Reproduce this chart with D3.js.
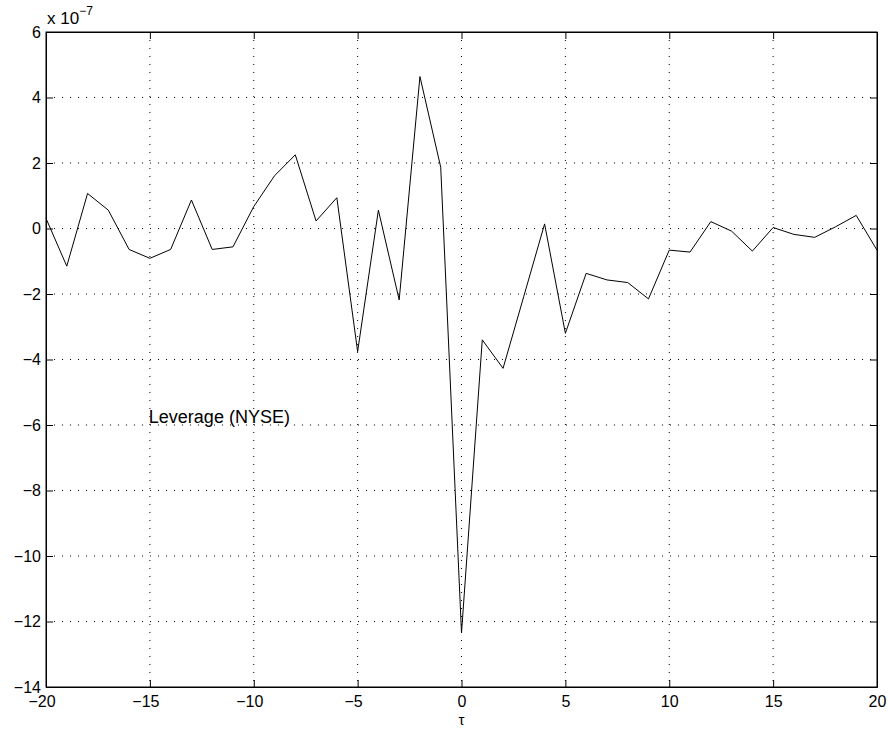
<html>
<head>
<script src="https://d3js.org/d3.v7.min.js"></script>
<style>
  body{margin:0;background:#fff;}
  text{font-family:"Liberation Sans",Arial,sans-serif;fill:#000;}
  .grid line{stroke:#000;stroke-width:1;stroke-dasharray:1,7;}
</style>
</head>
<body>
<script>
// lag tau
const lags = d3.range(-20, 21);
// leverage correlation, in units of 1e-7
const leverage = [0.31, -1.15, 1.07, 0.56, -0.64, -0.91, -0.64, 0.87, -0.64, -0.56,
  0.67, 1.61, 2.25, 0.23, 0.94, -3.76, 0.56, -2.18, 4.64, 1.87,
  -12.35, -3.40, -4.27, -2.07, 0.14, -3.20, -1.37, -1.57, -1.65, -2.15,
  -0.66, -0.72, 0.21, -0.08, -0.69, 0.03, -0.18, -0.27, 0.05, 0.40, -0.66];
const xTicks = [-20, -15, -10, -5, 0, 5, 10, 15, 20];
const yTicks = [-14, -12, -10, -8, -6, -4, -2, 0, 2, 4, 6];

const w = 889, h = 735;
const margin = {left:46, right:12, top:32, bottom:48};
const innerW = w - margin.left - margin.right;
const innerH = h - margin.top - margin.bottom;

const x = d3.scaleLinear().domain([-20, 20]).range([0, innerW]);
const y = d3.scaleLinear().domain([-14, 6]).range([innerH, 0]);

const svg = d3.select("body").append("svg").attr("width", w).attr("height", h);
const g = svg.append("g").attr("transform", "translate(" + margin.left + "," + margin.top + ")");

// grid
const grid = g.append("g").attr("class", "grid");
grid.selectAll(".vx").data(xTicks.slice(1, -1)).enter().append("line")
  .attr("x1", d => x(d)).attr("x2", d => x(d)).attr("y1", 0).attr("y2", innerH);
grid.selectAll(".hy").data(yTicks.slice(1, -1)).enter().append("line")
  .attr("x1", 0).attr("x2", innerW).attr("y1", d => y(d)).attr("y2", d => y(d));

// axes
const fmt = d => d < 0 ? "\u2212" + Math.abs(d) : String(d);
const xAxis = g.append("g").attr("transform", "translate(0," + innerH + ")")
  .call(d3.axisBottom(x).tickValues(xTicks).tickSizeInner(-7).tickSizeOuter(0).tickFormat(fmt));
const yAxis = g.append("g")
  .call(d3.axisLeft(y).tickValues(yTicks).tickSizeInner(-7).tickSizeOuter(0).tickPadding(5).tickFormat(fmt));
g.append("g").attr("transform", "translate(0,0)")
  .call(d3.axisTop(x).tickValues(xTicks).tickSizeInner(-7).tickSizeOuter(0).tickFormat(""));
g.append("g").attr("transform", "translate(" + innerW + ",0)")
  .call(d3.axisRight(y).tickValues(yTicks).tickSizeInner(-7).tickSizeOuter(0).tickFormat(""));
g.selectAll(".domain").attr("stroke", "#000").attr("stroke-width", 1);
g.selectAll(".tick line").attr("stroke", "#000");
g.selectAll(".tick text").attr("font-size", 16).attr("font-family", "Liberation Sans, Arial, sans-serif");
// digits centred on the tick, minus sign hanging to the left
xAxis.selectAll(".tick text").attr("y", 20).attr("dy", 0)
  .attr("dx", d => d < 0 ? -4.5 : 0);

// frame
g.append("rect").attr("width", innerW).attr("height", innerH)
  .attr("fill", "none").attr("stroke", "#000").attr("stroke-width", 1);

// line
g.append("path")
  .datum(lags.map((t, i) => [t, leverage[i]]))
  .attr("fill", "none").attr("stroke", "#000").attr("stroke-width", 1)
  .attr("d", d3.line().x(d => x(d[0])).y(d => y(d[1])));

// exponent label
const ex = svg.append("text").attr("x", margin.left + 1).attr("y", 24).attr("font-size", 17);
ex.append("tspan").text("x 10");
ex.append("tspan").attr("dy", -9).attr("font-size", 12).text("\u22127");

// annotation
g.append("text").attr("x", x(-15.05)).attr("y", y(-5.95)).attr("font-size", 18).text("Leverage (NYSE)");

// x label
svg.append("text").attr("x", margin.left + x(0)).attr("y", 725)
  .attr("text-anchor", "middle").attr("font-size", 15).text("\u03c4");
</script>
</body>
</html>
